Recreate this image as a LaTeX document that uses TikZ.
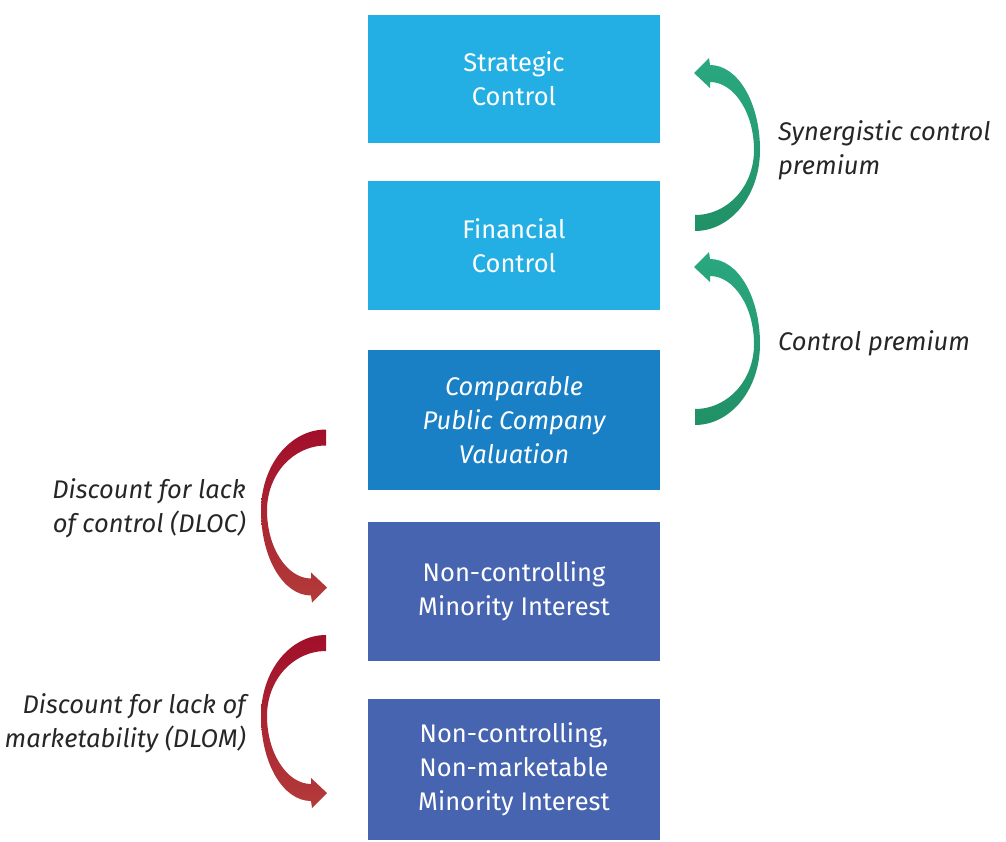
\documentclass[tikz,border=0pt]{standalone}
\usepackage{fontspec}
\setmainfont{Fira Sans}
\definecolor{skyblue}{HTML}{23AFE3}
\definecolor{midblue}{HTML}{1A80C6}
\definecolor{slateblue}{HTML}{4664AF}
\definecolor{premgreen}{HTML}{2AA880}
\definecolor{premgreendark}{HTML}{219066}
\definecolor{discred}{HTML}{A10F2A}
\definecolor{discredlight}{HTML}{B33B3A}
\definecolor{labelgray}{HTML}{262626}
\tikzset{level/.style={shape=rectangle, minimum width=292, inner sep=0,
  text=white, align=center, font=\fontsize{25.5}{34}\selectfont},
  note/.style={text=labelgray, inner sep=0, font=\fontsize{25.5}{34}\selectfont\itshape},
  pics/bend arrow/.style 2 args={code={
    \shade[top color=#1, bottom color=#2] (0,8)
      .. controls (36,8) and (65,-28) .. (65,-73)
      .. controls (65,-120) and (43,-158) .. (15,-158)
      -- (14,-165) -- (-1,-150) -- (15,-135) -- (15,-141)
      .. controls (39,-141) and (59,-110) .. (59,-73)
      .. controls (59,-37) and (33,-8) .. (0,-8) -- cycle;}}}

\begin{document}
\begin{tikzpicture}[x=1pt, y=-1pt]
    \useasboundingbox (0,0) rectangle (1006,842);
    % valuation levels, top to bottom
    \foreach \name/\yc/\boxh/\col/\txt in {
        strat/79/128/skyblue/{Strategic\\Control},
        fin/245.5/129/skyblue/{Financial\\Control},
        pub/420/140/midblue/{\itshape Comparable\\\itshape Public Company\\\itshape Valuation},
        minor/591.5/139/slateblue/{Non-controlling\\Minority Interest},
        nonmkt/769.5/141/slateblue/{Non-controlling,\\Non-marketable\\Minority Interest}}
        \node [level, fill=\col, minimum height=\boxh] at (514, \yc) (\name) {\txt};
    % premiums and discounts
    \coordinate (syn-tail) at (695, 223);
    \coordinate (ctrl-tail) at (695, 417);
    \coordinate (dloc-tail) at (326, 437.5);
    \coordinate (dlom-tail) at (326, 643);
    \pic at (syn-tail) {bend arrow={premgreen}{premgreendark}};
    \pic at (ctrl-tail) {bend arrow={premgreen}{premgreendark}};
    \pic [rotate=180] at (dloc-tail) {bend arrow={discred}{discredlight}};
    \pic [rotate=180] at (dlom-tail) {bend arrow={discred}{discredlight}};
    \node [note, anchor=west, align=left] at (778, 150.5) (syn) {Synergistic control\\premium};
    \node [note, anchor=west] at (778, 343) (ctrl) {Control premium};
    \node [note, anchor=east, align=right] at (246, 508) (dloc) {Discount for lack\\of control (DLOC)};
    \node [note, anchor=east, align=right] at (246, 723.5) (dlom) {Discount for lack of\\marketability (DLOM)};
\end{tikzpicture}
\end{document}
